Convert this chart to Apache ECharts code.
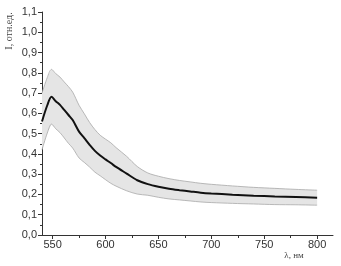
<!DOCTYPE html>
<html><head><meta charset="utf-8">
<script src="https://cdn.jsdelivr.net/npm/echarts@6/dist/echarts.min.js"></script>
<style>html,body{margin:0;padding:0;background:#fff}#c{width:341px;height:266px}</style>
</head><body><div id="c"></div>
<script>
var wavelengths = [540,545,549,553,557,561,565,569,575,580,585,590,595,600,605,610,620,630,640,650,660,670,680,690,700,720,740,760,780,800];
var meanValues  = [0.56,0.64,0.682,0.66,0.642,0.617,0.592,0.567,0.51,0.478,0.445,0.415,0.392,0.373,0.355,0.336,0.303,0.270,0.251,0.238,0.228,0.221,0.215,0.209,0.205,0.199,0.194,0.190,0.187,0.184];
var errValues   = [0.14,0.137,0.135,0.136,0.137,0.138,0.14,0.138,0.13,0.12,0.11,0.105,0.10,0.10,0.10,0.095,0.085,0.068,0.055,0.052,0.05,0.048,0.047,0.046,0.045,0.043,0.041,0.04,0.038,0.037];
var xTicks = [550,600,650,700,750,800];
var xMinorTicks = [575,625,675,725,775];

var upper = wavelengths.map(function(x,i){return [x, meanValues[i]+errValues[i]];});
var lower = wavelengths.map(function(x,i){return [x, meanValues[i]-errValues[i]];});
var mean  = wavelengths.map(function(x,i){return [x, meanValues[i]];});
var bandData = wavelengths.map(function(x,i){return [x, meanValues[i]-errValues[i], meanValues[i]+errValues[i]];});

var chart = echarts.init(document.getElementById('c'), null, {renderer:'canvas'});
var axisLineStyle = {color:'#333', width:1};
chart.setOption({
  animation:false,
  grid:{left:42, right:8, top:12, bottom:31, containLabel:false},
  xAxis:[{
    type:'value', min:540, max:815,
    axisLine:{show:true, onZero:false, lineStyle:axisLineStyle},
    axisTick:{show:true, inside:false, length:4, customValues:xTicks, lineStyle:axisLineStyle},
    axisLabel:{show:true, customValues:xTicks, margin:4, color:'#333', fontSize:11, fontFamily:'Liberation Sans, Arial, sans-serif'},
    splitLine:{show:false}
  },{
    type:'value', min:540, max:815, position:'bottom',
    axisLine:{show:false},
    axisTick:{show:true, inside:false, length:3, customValues:xMinorTicks, lineStyle:axisLineStyle},
    axisLabel:{show:false},
    splitLine:{show:false}
  }],
  yAxis:{
    type:'value', min:0, max:1.1, interval:0.1,
    axisLine:{show:true, lineStyle:axisLineStyle},
    axisTick:{show:true, inside:false, length:4, lineStyle:axisLineStyle},
    minorTick:{show:true, splitNumber:2, length:2, lineStyle:axisLineStyle},
    axisLabel:{margin:5, color:'#333', fontSize:11, fontFamily:'Liberation Sans, Arial, sans-serif',
      formatter:function(v){return v.toFixed(1).replace('.',',');}},
    splitLine:{show:false}
  },
  graphic:[
    {type:'text', x:9, y:31, rotation:Math.PI/2,
     style:{text:'I, отн.ед.', font:'10px "Liberation Serif", "DejaVu Serif", serif', fill:'#444', align:'center', verticalAlign:'middle'}},
    {type:'text', x:294, y:256,
     style:{text:'λ, нм', font:'9px "Liberation Serif", "DejaVu Serif", serif', fill:'#444', align:'center', verticalAlign:'middle'}}
  ],
  series:[
    {type:'custom', data:bandData, z:1, silent:true,
     renderItem:function(params, api){
       if(params.dataIndex !== 0) return null;
       var top=[], bot=[];
       for(var i=0;i<bandData.length;i++){
         top.push(api.coord([bandData[i][0], bandData[i][2]]));
         bot.push(api.coord([bandData[i][0], bandData[i][1]]));
       }
       var pts = top.concat(bot.reverse());
       return {type:'polygon', shape:{points:pts, smooth:0}, style:{fill:'#e5e5e5', stroke:null}};
     }},
    {type:'line', data:lower, symbol:'none', smooth:0.3, lineStyle:{width:0.8, color:'#a8a8a8'}, z:2},
    {type:'line', data:upper, symbol:'none', smooth:0.3, lineStyle:{width:0.8, color:'#a8a8a8'}, z:2},
    {type:'line', data:mean, symbol:'none', smooth:0.3, lineStyle:{width:2, color:'#111'}, z:3}
  ]
});
</script></body></html>
